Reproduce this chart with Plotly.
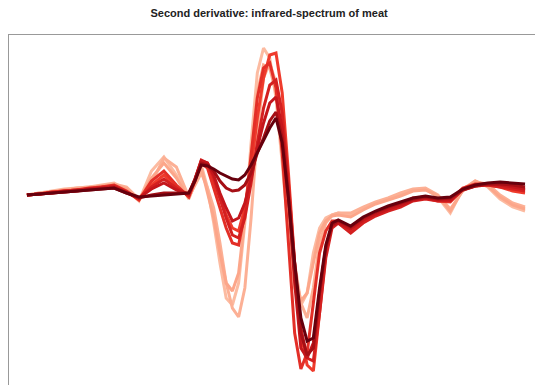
import plotly.graph_objects as go

# Wavelength grid (nm): 5 nm steps, 2.5 nm through the main absorption band
wavelength = [850, 855, 860, 865, 870, 875, 880, 885, 890, 895, 900, 905, 910,
              915, 917.5, 920, 922.5, 925, 927.5, 930, 932.5, 935, 937.5, 940, 942.5,
              945, 947.5, 950, 952.5, 955, 957.5, 960, 962.5, 965, 967.5, 970, 972.5, 975,
              980, 985, 990, 995, 1000, 1005, 1010, 1015, 1020, 1025, 1030, 1035, 1040,
              1045, 1050]

# Second-derivative absorbance per sample (arbitrary units)
s1 = [-2, 0, 2, 4, 5, 6, 8, 10, 3, -8, 22, 36, 18,
      -6, 10, 28, 5, -30, -70, -105, -112, -90, -30, 50, 120, 145, 135, 95, 30, -40,
      -95, -112, -100, -60, -35, -25, -22, -20,
      -22, -16, -10, -6, -2, 3, 4, -4, -20, 4, 12, 6, -6, -14, -18]
s2 = [-2, 0, 1, 3, 5, 6, 7, 9, 6, -6, 10, 35, 26,
      -4, 8, 20, 5, -15, -50, -90, -115, -124, -95, -25, 60, 115, 130, 110, 60, -10,
      -70, -110, -125, -95, -50, -30, -22, -20,
      -20, -14, -9, -5, 0, 4, 5, -2, -16, 2, 11, 9, -2, -10, -14]
s3 = [-2, -1, 1, 3, 4, 5, 7, 8, 4, -7, 15, 30, 15,
      -5, 10, 25, 0, -25, -60, -90, -98, -80, -25, 40, 100, 128, 125, 100, 45, -20,
      -80, -108, -100, -70, -40, -28, -23, -22,
      -24, -17, -11, -7, -3, 2, 3, -3, -18, 3, 12, 7, -4, -12, -16]
s4 = [-2, -1, 1, 2, 3, 4, 6, 7, 1, -6, 8, 18, 6,
      -3, 12, 32, 28, 12, -5, -22, -35, -38, -15, 25, 75, 115, 138, 140, 100, 20,
      -70, -140, -172, -178, -120, -60, -32, -30,
      -38, -28, -22, -17, -13, -6, -5, -8, -9, 4, 7, 8, 6, 2, 0]
s5 = [-2, -1, 1, 2, 3, 5, 6, 8, 2, -7, 12, 22, 8,
      -4, 12, 30, 25, 5, -15, -35, -50, -52, -20, 35, 95, 125, 130, 105, 40, -50,
      -140, -176, -160, -110, -60, -38, -28, -28,
      -35, -26, -20, -15, -11, -5, -4, -6, -7, 5, 9, 9, 7, 5, 3]
s6 = [-2, -1, 0, 2, 3, 4, 5, 7, 1, -6, 6, 14, 5,
      -2, 14, 33, 30, 15, -5, -25, -42, -45, -25, 10, 50, 85, 108, 113, 80, 10,
      -70, -135, -165, -168, -120, -65, -35, -30,
      -40, -30, -23, -18, -14, -8, -6, -8, -8, 3, 7, 8, 6, 4, 2]
s7 = [-2, -1, 0, 1, 2, 4, 5, 6, 1, -5, 4, 10, 3,
      -2, 14, 32, 30, 18, 0, -15, -28, -25, -10, 15, 45, 70, 90, 96, 65, 0,
      -90, -155, -165, -150, -100, -55, -33, -30,
      -36, -27, -21, -16, -12, -7, -5, -7, -7, 4, 8, 9, 8, 6, 4]
s8 = [-2, -1, 0, 1, 2, 3, 4, 5, 0, -5, -2, 0, 0,
      0, 14, 30, 28, 22, 12, 5, 2, 3, 8, 20, 40, 55, 72, 81, 55, -5,
      -80, -140, -162, -155, -100, -55, -32, -28,
      -34, -25, -19, -14, -10, -6, -4, -6, -5, 3, 7, 9, 9, 8, 6]
s9 = [-2, -1, 0, 1, 2, 3, 4, 5, 0, -4, -3, -2, -1,
      0, 12, 28, 27, 24, 20, 17, 14, 13, 18, 28, 40, 52, 65, 75, 50, -5,
      -70, -125, -148, -145, -95, -52, -30, -27,
      -33, -24, -18, -13, -9, -5, -3, -5, -4, 4, 8, 10, 11, 10, 9]

spectra = [s1, s2, s3, s4, s5, s6, s7, s8, s9]
colors = ["#fcbba1", "#fcb095", "#fca68a", "#ef3b2c", "#e32f27",
          "#d42020", "#c4161c", "#a50f15", "#67000d"]

fig = go.Figure()
for values, color in zip(spectra, colors):
    fig.add_trace(go.Scatter(
        x=wavelength, y=values, mode="lines",
        line=dict(color=color, width=3),
    ))

fig.update_layout(
    width=535, height=385,
    margin=dict(l=9, r=0, t=35, b=0),
    paper_bgcolor="white", plot_bgcolor="white",
    showlegend=False,
    title=dict(
        text="<b>Second derivative: infrared-spectrum of meat</b>",
        x=0.503, xref="container", y=0.966, yref="container",
        xanchor="center", yanchor="middle",
        font=dict(family="Liberation Sans, Arial, sans-serif", size=11, color="#222"),
    ),
)
fig.update_xaxes(
    range=[842.8, 1054.0], side="top", showline=True, linecolor="#999", linewidth=1,
    showticklabels=False, ticks="", showgrid=False, zeroline=False,
)
fig.update_yaxes(
    range=[-192, 158], showline=True, linecolor="#999", linewidth=1,
    showticklabels=False, ticks="", showgrid=False, zeroline=False,
)

fig.write_html("out.html")
